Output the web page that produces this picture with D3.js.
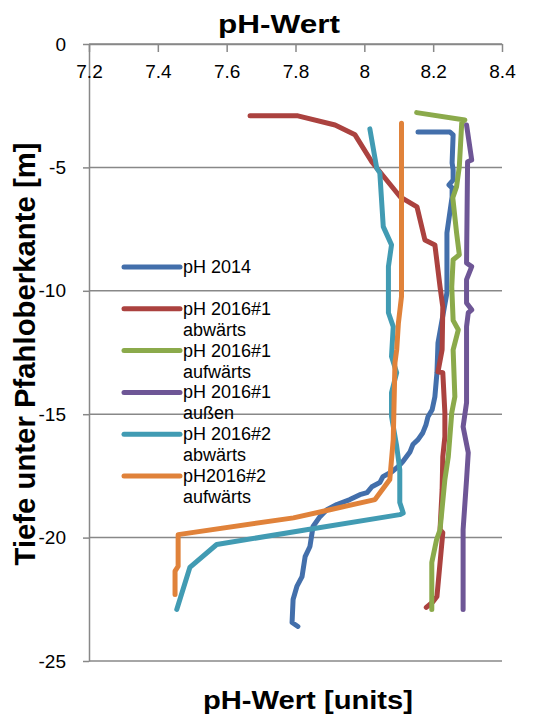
<!DOCTYPE html>
<html>
<head>
<meta charset="utf-8">
<script src="https://cdn.jsdelivr.net/npm/d3@7"></script>
<style>
  body { margin: 0; background: #fff; }
  text { font-family: Arial, "Liberation Sans", sans-serif; fill: #000; }
</style>
</head>
<body>
<div id="chart"></div>
<script>
// series names (legend)
var seriesNames = ["pH 2014", "pH 2016#1\nabwärts", "pH 2016#1\naufwärts",
                   "pH 2016#1\naußen", "pH 2016#2\nabwärts", "pH2016#2\naufwärts"];

// pH 2014
var depth2014 = [-3.57, -3.57, -3.68, -4.82, -5.10, -5.51, -5.71, -5.83, -6.19, -7.65, -9.27, -10.08,
                 -12.11, -13.32, -14.29, -14.82, -15.10, -15.43, -15.75, -16.03, -16.23, -16.52, -16.92,
                 -17.13, -17.33, -17.53, -17.77, -17.94, -18.18, -18.26, -18.46, -18.66, -18.87, -19.15,
                 -19.55, -20.36, -20.77, -21.58, -21.98, -22.51, -23.44, -23.60];
var ph2014 = [8.156, 8.249, 8.258, 8.255, 8.258, 8.258, 8.246, 8.255, 8.255, 8.240, 8.240, 8.240,
              8.214, 8.211, 8.205, 8.197, 8.185, 8.179, 8.170, 8.156, 8.141, 8.133, 8.112,
              8.098, 8.080, 8.054, 8.045, 8.022, 8.008, 7.987, 7.958, 7.920, 7.891, 7.871,
              7.851, 7.842, 7.828, 7.819, 7.804, 7.793, 7.790, 7.807];

// pH 2016#1 abwärts
var depth2016_1ab = [-2.91, -2.91, -3.28, -3.68, -4.78, -6.19, -6.60, -7.94, -8.14, -9.84, -10.65, -12.39,
                     -13.28, -13.32, -14.94, -15.91, -16.72, -18.06, -19.68, -19.80, -22.39, -22.59, -22.83];
var ph2016_1ab = [7.668, 7.807, 7.915, 7.973, 8.022, 8.104, 8.153, 8.176, 8.205, 8.220, 8.228, 8.226,
                  8.214, 8.228, 8.234, 8.234, 8.228, 8.226, 8.220, 8.228, 8.211, 8.200, 8.180];

// pH 2016#1 aufwärts
var depth2016_1auf = [-2.78, -3.08, -3.20, -4.97, -5.78, -6.23, -7.65, -8.54, -8.74, -9.84, -11.20, -11.58,
                      -12.39, -14.29, -14.94, -16.72, -17.65, -19.68, -20.08, -21.01, -22.91];
var ph2016_1auf = [8.152, 8.292, 8.283, 8.276, 8.268, 8.257, 8.268, 8.276, 8.258, 8.254, 8.258, 8.273,
                   8.258, 8.263, 8.254, 8.244, 8.234, 8.220, 8.210, 8.196, 8.196];

// pH 2016#1 außen
var depth2016_1aus = [-3.28, -4.70, -4.77, -8.87, -9.02, -9.55, -10.49, -10.77, -10.89, -11.45, -14.53,
                      -15.51, -16.56, -17.65, -19.68, -22.91];
var ph2016_1aus = [8.297, 8.312, 8.300, 8.297, 8.312, 8.297, 8.297, 8.312, 8.302, 8.297, 8.297,
                   8.287, 8.302, 8.297, 8.287, 8.287];

// pH 2016#2 abwärts
var depth2016_2ab = [-3.44, -5.03, -5.22, -7.40, -8.14, -9.02, -10.89, -11.45, -12.66, -13.32, -14.13,
                     -15.09, -16.30, -17.25, -18.58, -19.00, -19.07, -19.68, -20.28, -21.21, -22.91];
var ph2016_2ab = [8.016, 8.036, 8.045, 8.055, 8.079, 8.070, 8.070, 8.084, 8.079, 8.094, 8.079,
                  8.079, 8.094, 8.103, 8.103, 8.113, 8.103, 7.832, 7.571, 7.493, 7.455];

// pH2016#2 aufwärts
var depth2016_2auf = [-3.21, -10.23, -11.31, -12.39, -12.91, -16.03, -17.65, -18.46, -18.87, -19.20,
                      -19.88, -21.16, -21.36, -22.31];
var ph2016_2auf = [8.108, 8.108, 8.099, 8.094, 8.089, 8.084, 8.074, 8.031, 7.900, 7.794,
                   7.459, 7.459, 7.450, 7.450];

var xTicks = [7.2, 7.4, 7.6, 7.8, 8, 8.2, 8.4];
var yTicks = [0, -5, -10, -15, -20, -25];

var colors = ["#436FAB", "#AB423F", "#8BAA4B", "#6E5696", "#419BB3", "#E0823A"];

var allDepths = [depth2014, depth2016_1ab, depth2016_1auf, depth2016_1aus, depth2016_2ab, depth2016_2auf];
var allPh = [ph2014, ph2016_1ab, ph2016_1auf, ph2016_1aus, ph2016_2ab, ph2016_2auf];

var series = seriesNames.map(function(name, i) {
  return {
    name: name,
    color: colors[i],
    values: allDepths[i].map(function(d, j) { return {depth: d, ph: allPh[i][j]}; })
  };
});

var W = 547, H = 717;
var plot = {left: 89, right: 502, top: 44, bottom: 661};

var svg = d3.select("#chart").append("svg")
    .attr("width", W)
    .attr("height", H);

var x = d3.scaleLinear().domain([7.2, 8.4]).range([plot.left, plot.right]);
var y = d3.scaleLinear().domain([0, -25]).range([plot.top, plot.bottom]);

var gridColor = "#888888";

// horizontal gridlines
svg.append("g")
  .selectAll("line")
  .data(yTicks)
  .enter().append("line")
    .attr("x1", plot.left)
    .attr("x2", plot.right)
    .attr("y1", function(d) { return y(d); })
    .attr("y2", function(d) { return y(d); })
    .attr("stroke", gridColor)
    .attr("stroke-width", 1.5);

// y axis
var yAxis = svg.append("g")
    .attr("transform", "translate(" + plot.left + ",0)")
    .call(d3.axisLeft(y).tickValues(yTicks).tickSize(6).tickSizeOuter(0).tickPadding(17)
      .tickFormat(function(d) { return String(d); }));
yAxis.select(".domain").attr("stroke", gridColor).attr("stroke-width", 1.5);
yAxis.selectAll(".tick line").attr("stroke", gridColor).attr("stroke-width", 1.5);
yAxis.selectAll("text").attr("font-size", 19).attr("fill", "#000")
    .style("font-family", "Arial, 'Liberation Sans', sans-serif");

// x axis (at depth 0, ticks pointing into the plot)
var xAxis = svg.append("g")
    .attr("transform", "translate(0," + y(0) + ")")
    .call(d3.axisBottom(x).tickValues(xTicks).tickSize(8).tickSizeOuter(0).tickPadding(13)
      .tickFormat(function(d) { return String(d); }));
xAxis.select(".domain").attr("stroke", gridColor).attr("stroke-width", 1.5);
xAxis.selectAll(".tick line").attr("stroke", gridColor).attr("stroke-width", 1.5);
xAxis.selectAll("text").attr("font-size", 19).attr("fill", "#000")
    .style("font-family", "Arial, 'Liberation Sans', sans-serif");

// lines
var line = d3.line()
    .x(function(d) { return x(d.ph); })
    .y(function(d) { return y(d.depth); });

svg.append("g")
  .selectAll("path")
  .data(series)
  .enter().append("path")
    .attr("d", function(d) { return line(d.values); })
    .attr("fill", "none")
    .attr("stroke", function(d) { return d.color; })
    .attr("stroke-width", 5)
    .attr("stroke-linejoin", "round")
    .attr("stroke-linecap", "round");

// legend
var legend = svg.append("g");
var entry = legend.selectAll("g")
  .data(series)
  .enter().append("g")
    .attr("transform", function(d, i) { return "translate(124," + (267 + i * 41.8) + ")"; });
entry.append("line")
    .attr("x1", 0).attr("x2", 56)
    .attr("stroke", function(d) { return d.color; })
    .attr("stroke-width", 5)
    .attr("stroke-linecap", "round");
entry.append("text")
    .attr("x", 59)
    .attr("y", 6)
    .attr("font-size", 18)
  .selectAll("tspan")
  .data(function(d) { return d.name.split("\n"); })
  .enter().append("tspan")
    .attr("x", 59)
    .attr("dy", function(d, i) { return i === 0 ? 0 : 21; })
    .text(function(d) { return d; });

// titles
svg.append("text")
    .attr("x", 279).attr("y", 33)
    .attr("text-anchor", "middle")
    .attr("font-size", 25).attr("font-weight", "bold")
    .attr("textLength", 122).attr("lengthAdjust", "spacingAndGlyphs")
    .text("pH-Wert");

svg.append("text")
    .attr("x", 308).attr("y", 709)
    .attr("text-anchor", "middle")
    .attr("font-size", 25).attr("font-weight", "bold")
    .attr("textLength", 210).attr("lengthAdjust", "spacingAndGlyphs")
    .text("pH-Wert [units]");

svg.append("text")
    .attr("transform", "translate(35,354) rotate(-90)")
    .attr("text-anchor", "middle")
    .attr("font-size", 29).attr("font-weight", "bold")
    .attr("textLength", 423).attr("lengthAdjust", "spacingAndGlyphs")
    .text("Tiefe unter Pfahloberkante [m]");
</script>
</body>
</html>
